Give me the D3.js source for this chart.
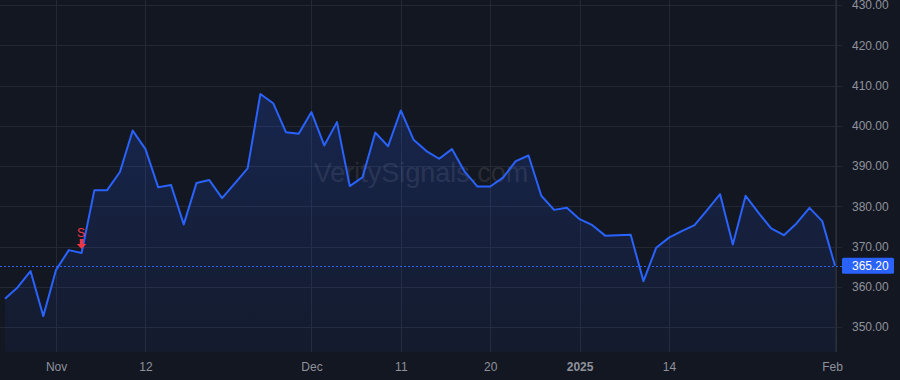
<!DOCTYPE html>
<html>
<head>
<meta charset="utf-8">
<script src="https://cdn.jsdelivr.net/npm/d3@7"></script>
<style>
  body { margin: 0; background: #131722; }
  svg { display: block; }
</style>
</head>
<body>
<svg id="chart" width="900" height="380"></svg>
<script>
// trading days, Oct 28 2024 - Feb 3 2025
const dates = [
  "2024-10-28", "2024-10-29", "2024-10-30", "2024-10-31",
  "2024-11-01", "2024-11-04", "2024-11-05", "2024-11-06", "2024-11-07", "2024-11-08",
  "2024-11-11", "2024-11-12", "2024-11-13", "2024-11-14", "2024-11-15",
  "2024-11-18", "2024-11-19", "2024-11-20", "2024-11-21", "2024-11-22",
  "2024-11-25", "2024-11-26", "2024-11-27", "2024-11-29",
  "2024-12-02", "2024-12-03", "2024-12-04", "2024-12-05", "2024-12-06",
  "2024-12-09", "2024-12-10", "2024-12-11", "2024-12-12", "2024-12-13",
  "2024-12-16", "2024-12-17", "2024-12-18", "2024-12-19", "2024-12-20",
  "2024-12-23", "2024-12-24", "2024-12-26", "2024-12-27", "2024-12-30", "2024-12-31",
  "2025-01-02", "2025-01-03", "2025-01-06", "2025-01-07", "2025-01-08", "2025-01-10",
  "2025-01-13", "2025-01-14", "2025-01-15", "2025-01-16", "2025-01-17",
  "2025-01-21", "2025-01-22", "2025-01-23", "2025-01-24",
  "2025-01-27", "2025-01-28", "2025-01-29", "2025-01-30", "2025-01-31",
  "2025-02-03"
];

const closes = [
  357.0, 359.9, 363.9, 352.7,
  364.2, 369.1, 368.4, 384.0, 384.0, 388.5,
  398.8, 394.2, 384.7, 385.3, 375.5,
  385.8, 386.5, 382.0, 385.7, 389.4,
  407.9, 405.6, 398.4, 398.0,
  403.4, 395.1, 400.9, 385.0, 387.2,
  398.3, 394.9, 403.8, 396.5, 393.7,
  391.8, 394.2, 388.6, 384.9, 384.9,
  387.1, 391.2, 392.6, 382.6, 379.1, 379.6,
  376.8, 375.3, 372.7, 372.8, 372.9, 361.4,
  369.7, 372.2, 373.8, 375.3, 379.1,
  383.0, 370.5, 382.6, 378.4,
  374.5, 372.8, 375.8, 379.6, 376.3,
  365.2
];

const xTicks = ["2024-11-01", "2024-11-12", "2024-12-02", "2024-12-11", "2024-12-20", "2025-01-02", "2025-01-14", "2025-02-03"];
const xTickLabels = ["Nov", "12", "Dec", "11", "20", "2025", "14", "Feb"];
const yTicks = [350, 360, 370, 380, 390, 400, 410, 420, 430];

const lastPrice = 365.2;
const signalDate = "2024-11-05";
const signalLabel = "S";

const svg = d3.select("#chart");
const plotRight = 836;
const plotBottom = 352;
const font = "Liberation Sans, Arial, sans-serif";

const x = d3.scalePoint().domain(dates).range([5, 835]);
const y = d3.scaleLinear().domain([350, 430]).range([327, 5]);

const gridColor = "#242835";
const textColor = "#8f929b";

// background
svg.append("rect").attr("width", 900).attr("height", 380).attr("fill", "#131722");

// gradient fill
const defs = svg.append("defs");
const grad = defs.append("linearGradient")
  .attr("id", "areaGrad")
  .attr("gradientUnits", "userSpaceOnUse")
  .attr("x1", 0).attr("x2", 0)
  .attr("y1", y(d3.max(closes))).attr("y2", plotBottom);
grad.append("stop").attr("offset", "0%").attr("stop-color", "#2962ff").attr("stop-opacity", 0.2);
grad.append("stop").attr("offset", "100%").attr("stop-color", "#2962ff").attr("stop-opacity", 0.05);

// horizontal grid
svg.append("g")
  .selectAll("line")
  .data(yTicks)
  .enter().append("line")
  .attr("x1", 0).attr("x2", 842)
  .attr("y1", d => Math.round(y(d)) + 0.5)
  .attr("y2", d => Math.round(y(d)) + 0.5)
  .attr("stroke", gridColor);

// vertical grid
svg.append("g")
  .selectAll("line")
  .data(xTicks)
  .enter().append("line")
  .attr("x1", d => Math.round(x(d)) + 0.5)
  .attr("x2", d => Math.round(x(d)) + 0.5)
  .attr("y1", 0).attr("y2", plotBottom)
  .attr("stroke", gridColor);

// right axis line
svg.append("line")
  .attr("x1", plotRight + 0.5).attr("x2", plotRight + 0.5)
  .attr("y1", 0).attr("y2", plotBottom)
  .attr("stroke", "#2a2e39");

// watermark
svg.append("text")
  .attr("x", 421)
  .attr("y", 182)
  .attr("text-anchor", "middle")
  .style("font-family", font)
  .style("font-size", "27px")
  .attr("fill", "rgba(255,255,255,0.11)")
  .text("VeritySignals.com");

// area + line
const area = d3.area()
  .x((d, i) => x(dates[i]))
  .y0(plotBottom)
  .y1(d => y(d));

const line = d3.line()
  .x((d, i) => x(dates[i]))
  .y(d => y(d));

svg.append("path")
  .datum(closes)
  .attr("d", area)
  .attr("fill", "url(#areaGrad)");

svg.append("path")
  .datum(closes)
  .attr("d", line)
  .attr("fill", "none")
  .attr("stroke", "#2962ff")
  .attr("stroke-width", 2)
  .attr("stroke-linejoin", "round");

// last price dotted line
svg.append("line")
  .attr("x1", 0).attr("x2", 842)
  .attr("y1", Math.round(y(lastPrice)) + 0.5)
  .attr("y2", Math.round(y(lastPrice)) + 0.5)
  .attr("stroke", "#2962ff")
  .attr("stroke-width", 1)
  .attr("stroke-dasharray", "2,2");

// signal marker (arrow pointing down at the close)
const sx = x(signalDate);
const sy = y(closes[dates.indexOf(signalDate)]);
svg.append("path")
  .attr("d", `M${sx - 1.8},${sy - 14} h3.6 v5 h3 l-4.8,5 l-4.8,-5 h3 z`)
  .attr("fill", "#f23645");
svg.append("text")
  .attr("x", sx - 0.5)
  .attr("y", sy - 16)
  .attr("text-anchor", "middle")
  .style("font-family", font)
  .style("font-size", "12px")
  .attr("fill", "#f23645")
  .text(signalLabel);

// y axis labels
const yAxis = d3.axisRight(y)
  .tickValues(yTicks)
  .tickFormat(d3.format(".2f"))
  .tickSize(0)
  .tickPadding(0);

svg.append("g")
  .attr("transform", "translate(852,0)")
  .call(yAxis)
  .call(g => g.select(".domain").remove())
  .selectAll("text")
  .attr("fill", textColor)
  .style("font-family", font)
  .style("font-size", "12px");

// last price label
const py = y(lastPrice);
svg.append("rect")
  .attr("x", 842).attr("y", py - 8)
  .attr("width", 52).attr("height", 16)
  .attr("rx", 1.5)
  .attr("fill", "#2962ff");
svg.append("text")
  .attr("x", 852).attr("y", py)
  .attr("dy", "0.35em")
  .style("font-family", font)
  .style("font-size", "12px")
  .attr("fill", "#ffffff")
  .text(d3.format(".2f")(lastPrice));

// x axis labels
const xAxis = d3.axisBottom(x)
  .tickValues(xTicks)
  .tickFormat(d => xTickLabels[xTicks.indexOf(d)])
  .tickSize(0)
  .tickPadding(0);

const xg = svg.append("g")
  .attr("transform", "translate(0,362)")
  .call(xAxis)
  .call(g => g.select(".domain").remove());

xg.selectAll("text")
  .attr("fill", textColor)
  .style("font-family", font)
  .style("font-size", "12px")
  .style("font-weight", d => d === "2025-01-02" ? "bold" : "normal");

// last label is pulled left so it stays clear of the price scale
xg.selectAll("text")
  .filter(d => d === xTicks[xTicks.length - 1])
  .attr("dx", -3);
</script>
</body>
</html>
